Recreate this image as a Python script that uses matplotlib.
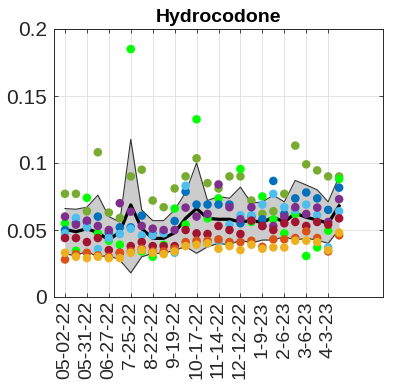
import numpy as np
import matplotlib
matplotlib.use("Agg")
import matplotlib.pyplot as plt

plt.rcParams['font.family'] = ['Liberation Sans', 'DejaVu Sans']

# Sampling dates (every two weeks); every other one is labelled
tick_labels = ["05-02-22", "05-31-22", "06-27-22", "7-25-22", "8-22-22", "9-19-22",
               "10-17-22", "11-14-22", "12-12-22", "1-9-23", "2-6-23", "3-6-23", "4-3-23"]

# Per-site concentrations
olive = [0.077, 0.077, 0.064, 0.108, 0.063, 0.059, 0.090, 0.095, 0.072, 0.067, 0.081, 0.090, 0.1035,
         0.085, 0.081, 0.090, 0.090, 0.072, 0.062, 0.064, 0.077, 0.113, 0.099, 0.0945, 0.090, 0.090]
green = [0.055, 0.0345, 0.074, 0.0475, 0.042, 0.039, 0.185, 0.034, 0.030, 0.039, 0.066, 0.054, 0.1326,
         0.0587, 0.0736, 0.040, 0.0955, 0.056, 0.075, 0.058, 0.0475, 0.062, 0.0306, 0.037, 0.0495, 0.088]
blue = [0.050, 0.055, 0.056, 0.060, 0.048, 0.052, 0.052, 0.0607, 0.047, 0.048, 0.0567, 0.0786, 0.069,
        0.069, 0.069, 0.069, 0.055, 0.060, 0.058, 0.0866, 0.062, 0.0736, 0.078, 0.0736, 0.065, 0.0816]
lightblue = [0.0475, 0.059, 0.052, 0.0358, 0.044, 0.047, 0.051, 0.046, 0.046, 0.0475, 0.033, 0.083, 0.041,
             0.040, 0.042, 0.054, 0.061, 0.061, 0.069, 0.077, 0.067, 0.065, 0.069, 0.061, 0.037, 0.064]
purple = [0.060, 0.054, 0.057, 0.053, 0.050, 0.070, 0.0637, 0.053, 0.051, 0.050, 0.050, 0.0667, 0.060,
          0.062, 0.084, 0.067, 0.058, 0.067, 0.053, 0.053, 0.060, 0.067, 0.062, 0.0667, 0.056, 0.073]
darkred = [0.044, 0.044, 0.041, 0.044, 0.035, 0.033, 0.038, 0.041, 0.038, 0.038, 0.038, 0.050, 0.0475,
           0.047, 0.053, 0.050, 0.047, 0.057, 0.053, 0.050, 0.055, 0.056, 0.053, 0.056, 0.054, 0.0587]
orange = [0.028, 0.032, 0.033, 0.031, 0.030, 0.033, 0.034, 0.036, 0.034, 0.034, 0.036, 0.041, 0.042,
          0.042, 0.043, 0.041, 0.041, 0.042, 0.0375, 0.043, 0.043, 0.044, 0.049, 0.044, 0.034, 0.046]
yellow = [0.033, 0.030, 0.029, 0.030, 0.029, 0.029, 0.033, 0.035, 0.033, 0.032, 0.034, 0.038, 0.039,
          0.040, 0.036, 0.038, 0.035, 0.039, 0.036, 0.037, 0.037, 0.042, 0.042, 0.041, 0.035, 0.048]

# Average across sites and its spread band
mean_line = [0.0505, 0.0487, 0.051, 0.048, 0.0425, 0.0487, 0.0687, 0.051, 0.0438, 0.0438, 0.048, 0.0587, 0.066,
             0.0587, 0.058, 0.058, 0.056, 0.057, 0.0557, 0.0595, 0.056, 0.0625, 0.0595, 0.0575, 0.055, 0.068]
band_upper = [0.066, 0.0655, 0.067, 0.076, 0.060, 0.056, 0.1177, 0.065, 0.057, 0.057, 0.065, 0.078, 0.100,
              0.072, 0.075, 0.0737, 0.082, 0.070, 0.071, 0.076, 0.071, 0.087, 0.0836, 0.080, 0.071, 0.090]
band_lower = [0.032, 0.031, 0.034, 0.030, 0.031, 0.0276, 0.018, 0.030, 0.0326, 0.0326, 0.035, 0.0375, 0.0326,
              0.0375, 0.040, 0.039, 0.0425, 0.0403, 0.0425, 0.0425, 0.045, 0.0425, 0.0438, 0.0425, 0.040, 0.0505]

series = [
    (olive, "#77AC30"),
    (green, "#00FF00"),
    (blue, "#0072BD"),
    (lightblue, "#4DBEEE"),
    (purple, "#7E2F8E"),
    (darkred, "#A2142F"),
    (orange, "#D95319"),
    (yellow, "#EDB120"),
]

x = np.arange(1, len(mean_line) + 1)

fig = plt.figure(figsize=(3.97, 3.90), dpi=100)
ax = fig.add_axes([54 / 397, 1 - 297 / 390, 329 / 397, 268 / 390])

ax.fill_between(x, band_lower, band_upper, color="#CCCCCC", lw=0, zorder=1)
ax.plot(x, band_upper, color="#333333", lw=0.8, zorder=2)
ax.plot(x, band_lower, color="#333333", lw=0.8, zorder=2)
ax.plot(x, mean_line, color="black", lw=2.3, zorder=3)

for vals, col in series:
    ax.scatter(x, vals, s=38, color=col, edgecolors="none", zorder=4)

ax.set_xlim(0, 30)
ax.set_ylim(0, 0.2)
ax.set_xticks(x[::2])
ax.set_xticklabels(tick_labels, rotation=90, fontsize=14)
ax.set_yticks([0, 0.05, 0.1, 0.15, 0.2])
ax.set_yticklabels(["0", "0.05", "0.1", "0.15", "0.2"], fontsize=15)

ax.grid(True, color="#E3E3E3", lw=0.7, zorder=0)
ax.set_axisbelow(True)
ax.tick_params(direction="in", length=3, width=0.6, top=True, right=True,
               colors="#262626", labelcolor="#262626", pad=3)
ax.tick_params(axis="y", pad=5)
for sp in ax.spines.values():
    sp.set_color("#262626")
    sp.set_linewidth(0.7)

ax.set_title("Hydrocodone", fontsize=14, fontweight="bold", pad=5)

fig.savefig("out.png", dpi=100)
